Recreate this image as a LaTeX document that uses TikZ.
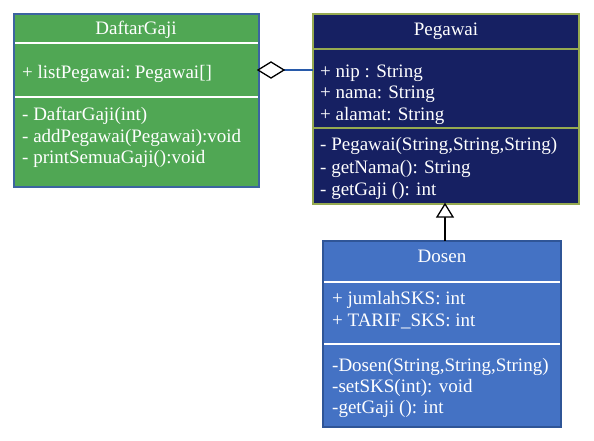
\documentclass[tikz,border=0pt]{standalone}
\usepackage{fontspec}
\setmainfont{Liberation Serif}
\definecolor{gfill}{RGB}{80,167,84}
\definecolor{gborder}{RGB}{60,100,160}
\definecolor{nfill}{RGB}{22,32,98}
\definecolor{nborder}{RGB}{150,170,80}
\definecolor{bfill}{RGB}{68,114,196}
\definecolor{bborder}{RGB}{47,85,151}
\definecolor{linkblue}{RGB}{40,90,170}
\begin{document}
\begin{tikzpicture}[x=1pt,y=-1pt,
  txt/.style={font=\fontsize{19}{21}\selectfont, text=white, inner sep=0pt, anchor=base west},
  ttl/.style={font=\fontsize{19}{21}\selectfont, text=white, inner sep=0pt, anchor=base},
  cls/.style={line width=1.3pt}
]
\useasboundingbox (0,0) rectangle (594,440);
\fill[white] (0,0) rectangle (594,440);

% DaftarGaji
\draw[cls, fill=gfill, draw=gborder] (14,14) rectangle (259,187);
\draw[white, line width=1.5pt] (15,43) -- (258,43);
\draw[white, line width=1.5pt] (15,97) -- (258,97);
\node[ttl] (dgt) at (136,34) {DaftarGaji};
\node[txt] (dga) at (22,78) {+ listPegawai:\hspace{-2pt} Pegawai[]};
\node[txt] (dgm1) at (22,120) {- DaftarGaji(int)};
\node[txt] (dgm2) at (22,142) {- addPegawai(Pegawai):void};
\node[txt] (dgm3) at (22,163) {- printSemuaGaji():void};
\coordinate (dgr) at (259,70);

% Pegawai
\draw[cls, fill=nfill, draw=nborder] (313,14) rectangle (579,204);
\draw[nborder, line width=1.5pt] (314,49) -- (578,49);
\draw[nborder, line width=1.5pt] (314,128) -- (578,128);
\node[ttl] (pgt) at (446,35) {Pegawai};
\node[txt] (pga1) at (320,77) {+ nip : String};
\node[txt] (pga2) at (320,98) {+ nama: String};
\node[txt] (pga3) at (320,120) {+ alamat: String};
\node[txt] (pgm1) at (320,150) {- Pegawai(String,String,String)};
\node[txt] (pgm2) at (320,173) {- getNama(): String};
\node[txt] (pgm3) at (320,195) {- getGaji (): int};
\coordinate (pgl) at (313,70);
\coordinate (pgb) at (445,204);

% Dosen
\draw[cls, fill=bfill, draw=bborder] (323,241) rectangle (561,427);
\draw[white, line width=1.5pt] (324,282) -- (560,282);
\draw[white, line width=1.5pt] (324,344) -- (560,344);
\node[ttl] (dst) at (442,262) {Dosen};
\node[txt] (dsa1) at (332,304) {+ jumlahSKS: int};
\node[txt] (dsa2) at (332,326) {+ TARIF\_SKS: int};
\node[txt] (dsm1) at (332,371) {-Dosen(String,String,String)};
\node[txt] (dsm2) at (332,392) {-setSKS(int): void};
\node[txt] (dsm3) at (332,413) {-getGaji (): int};
\coordinate (dstop) at (445,241);

% aggregation
\coordinate (dia) at (284,70);
\draw[linkblue, line width=1.5pt] (pgl) -- (dia);
\draw[black, line width=1.3pt, fill=white, line join=miter] (dia) -- (271,62) -- (258,70) -- (271,78) -- cycle;

% inheritance
\draw[black, line width=1.8pt] (dstop) -- (445,217);
\draw[black, line width=1.3pt, fill=white, line join=miter] (pgb) -- (453,217) -- (437,217) -- cycle;
\end{tikzpicture}
\end{document}
